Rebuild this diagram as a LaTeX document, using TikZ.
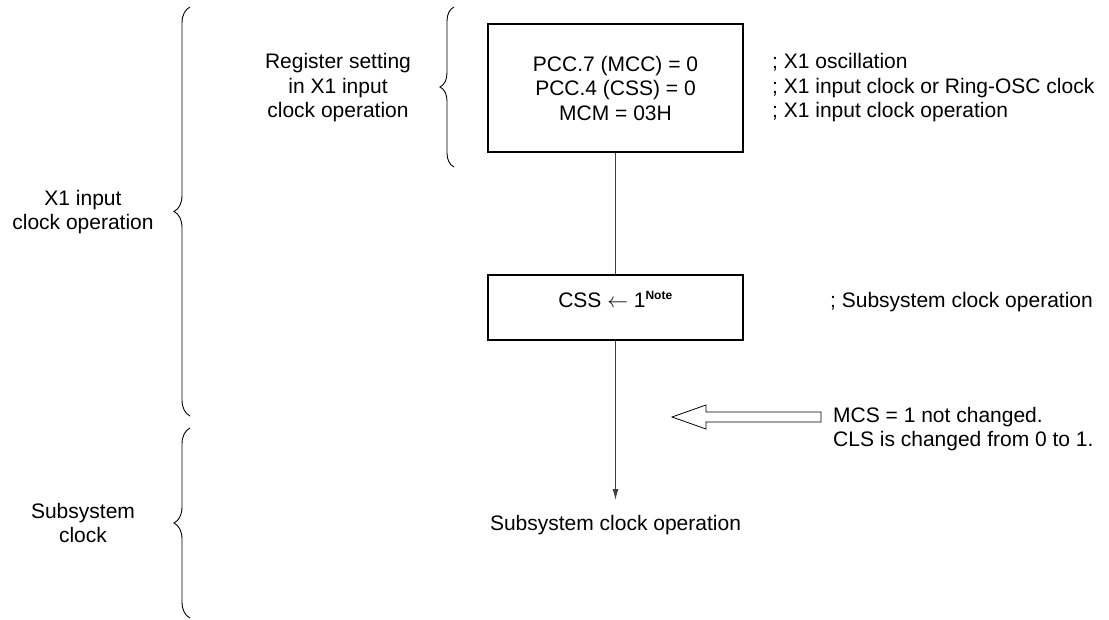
\documentclass[tikz,border=0pt]{standalone}
\usepackage{fontspec}
\setmainfont{Liberation Sans}
\usetikzlibrary{decorations.pathreplacing,arrows.meta}
\begin{document}
\begin{tikzpicture}[x=1pt,y=-1pt,
  every node/.style={font=\fontsize{21}{24.5}\selectfont, inner sep=0pt},
  stepbox/.style={draw, line width=1.8pt, minimum width=255pt, align=center},
  lbl/.style={align=center},
  cmt/.style={align=left, anchor=west},
  brc/.style={decorate, decoration={brace, amplitude=15pt}, line width=0.9pt},
  conn/.style={line width=0.9pt, draw=black!75},
  hollow/.style={draw, line width=0.8pt, fill=white}]
\useasboundingbox (0,0) rectangle (1109,620);

% boxes
\node[stepbox, minimum height=128pt] (b1) at (615.5,88)
  {PCC.7 (MCC) = 0\\PCC.4 (CSS) = 0\\MCM = 03H};
\node[stepbox, minimum height=65pt, text height=9pt, text depth=9pt] (b2) at (615.5,307.5)
  {CSS $\leftarrow$ 1\textsuperscript{\bfseries\fontsize{12}{12}\selectfont Note}};
\node[anchor=north, inner ysep=15.5pt] (out) at (615.5,500) {Subsystem clock operation};

% connectors
\draw[conn] (b1.south) -- (b2.north);
\draw[conn, -{Latex[length=11pt,width=6pt]}] (b2.south) -- (out.north);

% comments
\node[cmt] (c1) at (772,88)
  {; X1 oscillation\\; X1 input clock or Ring-OSC clock\\; X1 input clock operation};
\node[anchor=base west] (c2) at (830,308) {; Subsystem clock operation};
\node[anchor=west, align=left] (c3) at (833,429)
  {MCS = 1 not changed.\\CLS is changed from 0 to 1.};

% hollow arrow
\draw[hollow] (672,417) -- (706,405) -- (706,412) -- (821,412) -- (821,422)
  -- (706,422) -- (706,429) -- cycle;

% register setting
\node[lbl] (reg) at (338,88) {Register setting\\in X1 input\\clock operation};
\coordinate (rt) at (454,167);
\coordinate (rb) at (454,7);
\draw[brc, decoration={amplitude=14pt}] (rt) -- (rb);

% left braces
\coordinate (a1) at (190,416);
\coordinate (a2) at (190,7);
\draw[brc, decoration={amplitude=16pt}] (a1) -- (a2);
\node[lbl] (x1) at (83,212) {X1 input\\clock operation};

\coordinate (s1) at (190,618);
\coordinate (s2) at (190,428);
\draw[brc, decoration={amplitude=16pt}] (s1) -- (s2);
\node[lbl] (sub) at (83,523) {Subsystem\\clock};
\end{tikzpicture}
\end{document}
